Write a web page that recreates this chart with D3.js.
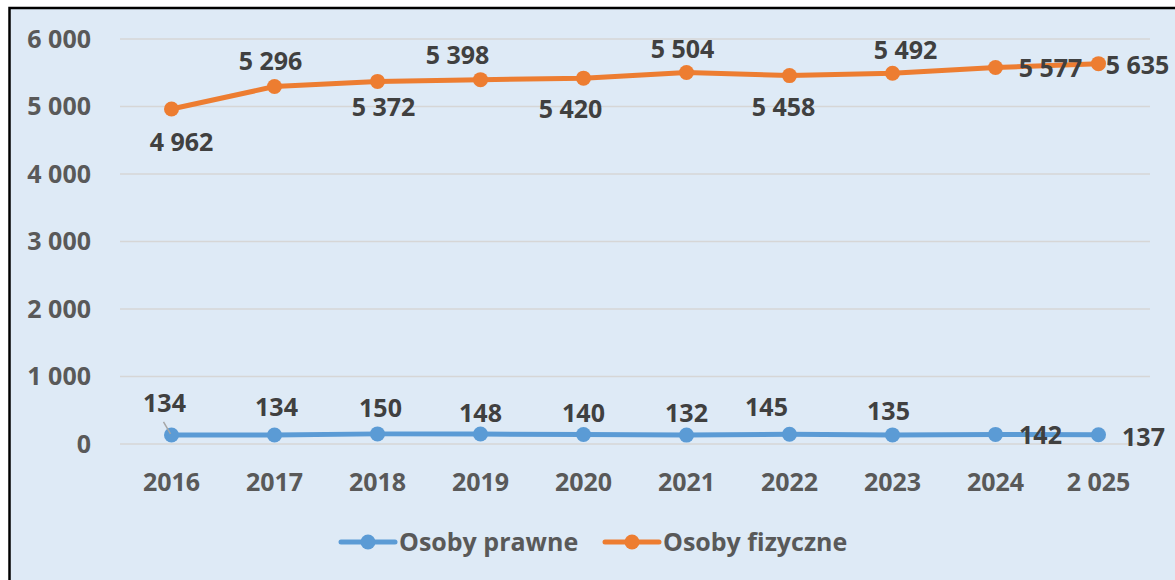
<!DOCTYPE html>
<html>
<head>
<meta charset="utf-8">
<script src="https://cdn.jsdelivr.net/npm/d3@7"></script>
<style>
  html, body { margin: 0; padding: 0; background: #ffffff; }
  svg { display: block; }
</style>
</head>
<body>
<script>
// chart values
var years = ['2016', '2017', '2018', '2019', '2020', '2021', '2022', '2023', '2024', '2 025'];
var prawne = [134, 134, 150, 148, 140, 132, 145, 135, 142, 137];
var fizyczne = [4962, 5296, 5372, 5398, 5420, 5504, 5458, 5492, 5577, 5635];
var yTicks = [0, 1000, 2000, 3000, 4000, 5000, 6000];
var seriesNames = ['Osoby prawne', 'Osoby fizyczne'];

// manual label placement (dx, dy from the point), as in the original
var prawneLabelPos = [[-7, -32], [2, -28], [3, -26], [0, -21], [0, -22], [0, -22], [-23, -27], [-4, -24], [45, 1], [45, 2]];
var fizyczneLabelPos = [[10, 33], [-4, -26], [6, 26], [-23, -25], [-13, 31], [-4, -23], [-6, 31], [13, -23], [55, 0], [39, 1]];

var width = 1175,
    height = 580,
    plotLeft = 120,
    plotRight = 1150,
    plotTop = 39,
    plotBottom = 444;

var blue = '#5b9bd5',
    orange = '#ed7d31',
    fontFam = '"Open Sans", "Noto Sans", sans-serif';

var svg = d3.select('body').append('svg')
    .attr('width', width)
    .attr('height', height)
    .style('font-family', fontFam)
    .style('font-weight', 'bold');

// background and border
svg.append('rect')
    .attr('x', 9.5).attr('y', 8)
    .attr('width', width + 20).attr('height', height + 20)
    .attr('fill', '#deeaf6')
    .attr('stroke', '#000')
    .attr('stroke-width', 2.5);

var x = d3.scaleBand()
    .domain(years)
    .range([plotLeft, plotRight]);
var cx = d => x(d) + x.bandwidth() / 2;

var y = d3.scaleLinear()
    .domain([0, 6000])
    .range([plotBottom, plotTop]);

var fmt = d3.formatLocale({decimal: ',', thousands: '\u00a0', grouping: [3], currency: ['', '']}).format(',d');

// grid lines
svg.append('g').selectAll('line').data(yTicks).enter().append('line')
    .attr('x1', plotLeft).attr('x2', plotRight)
    .attr('y1', d => y(d)).attr('y2', d => y(d))
    .attr('stroke', '#d6d6d6')
    .attr('stroke-width', 1.5);

// y axis labels
var yAxis = svg.append('g')
    .attr('transform', 'translate(91,0)')
    .call(d3.axisLeft(y).tickValues(yTicks).tickFormat(fmt).tickSize(0).tickPadding(0));
yAxis.select('.domain').remove();
yAxis.selectAll('text')
    .attr('fill', '#595959')
    .style('font-family', fontFam)
    .style('font-size', '25px')
    .style('font-weight', 'bold');

// x axis labels
var xAxis = svg.append('g')
    .attr('transform', 'translate(0,' + plotBottom + ')')
    .call(d3.axisBottom(x).tickSize(0).tickPadding(0));
xAxis.select('.domain').remove();
xAxis.selectAll('text')
    .attr('y', 38)
    .attr('dy', '0.36em')
    .attr('fill', '#595959')
    .style('font-family', fontFam)
    .style('font-size', '25px')
    .style('font-weight', 'bold');

function drawSeries(values, color, labelPos) {
    var pts = values.map((v, i) => [cx(years[i]), y(v), v, labelPos[i]]);
    var line = d3.line().x(d => d[0]).y(d => d[1]);
    svg.append('path')
        .attr('d', line(pts))
        .attr('fill', 'none')
        .attr('stroke', color)
        .attr('stroke-width', 5)
        .attr('stroke-linejoin', 'round');
    svg.append('g').selectAll('circle').data(pts).enter().append('circle')
        .attr('cx', d => d[0]).attr('cy', d => d[1])
        .attr('r', 7.5)
        .attr('fill', color);
    svg.append('g').selectAll('text').data(pts).enter().append('text')
        .attr('x', d => d[0] + d[3][0])
        .attr('y', d => d[1] + d[3][1])
        .attr('dy', '0.36em')
        .attr('text-anchor', 'middle')
        .attr('fill', '#404040')
        .style('font-size', '25px')
        .text(d => fmt(d[2]));
}

drawSeries(prawne, blue, prawneLabelPos);
drawSeries(fizyczne, orange, fizyczneLabelPos);

// leader line for the first blue label
svg.append('line')
    .attr('x1', cx(years[0]) - 8).attr('y1', y(prawne[0]) - 13)
    .attr('x2', cx(years[0]) - 1).attr('y2', y(prawne[0]) - 1)
    .attr('stroke', '#a6a6a6')
    .attr('stroke-width', 1.5);

// legend
var legend = svg.append('g').selectAll('g').data(seriesNames).enter().append('g')
    .attr('transform', (d, i) => 'translate(' + [341, 605][i] + ',542)');
legend.append('line')
    .attr('x1', 0).attr('x2', 54)
    .attr('stroke', (d, i) => [blue, orange][i])
    .attr('stroke-width', 5)
    .attr('stroke-linecap', 'round');
legend.append('circle')
    .attr('cx', 27).attr('r', 7.5)
    .attr('fill', (d, i) => [blue, orange][i]);
legend.append('text')
    .attr('x', 58)
    .attr('dy', '0.36em')
    .attr('fill', '#595959')
    .style('font-size', '25px')
    .text(d => d);
</script>
</body>
</html>
